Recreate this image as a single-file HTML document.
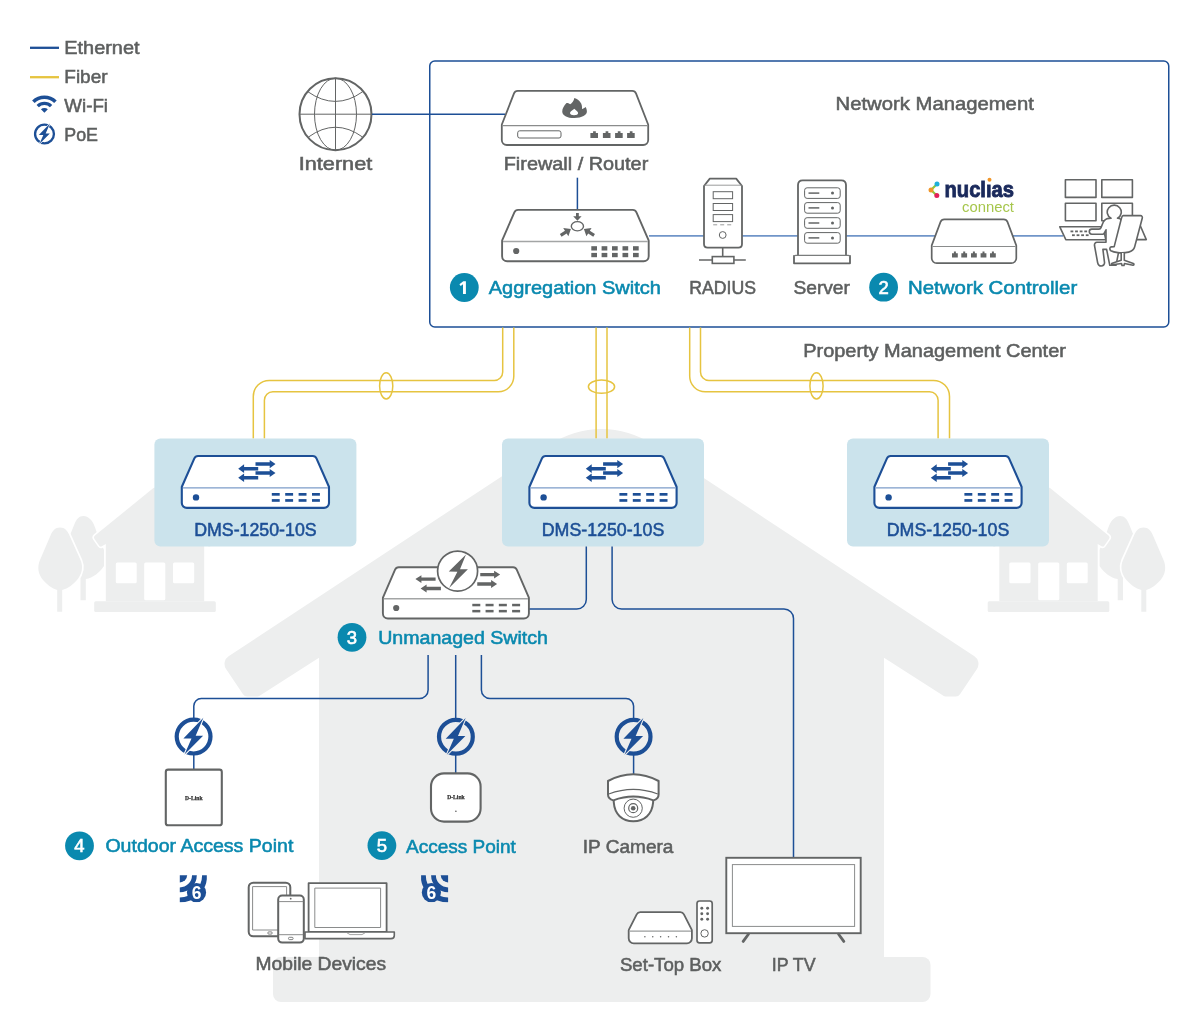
<!DOCTYPE html><html><head><meta charset="utf-8"><style>html,body{margin:0;padding:0;background:#fff;overflow:hidden}svg{display:block;will-change:transform}</style></head><body><svg width="1200" height="1034" viewBox="0 0 1200 1034" font-family='"Liberation Sans", sans-serif'>
<rect width="1200" height="1034" fill="#fff"/>
<path d="M319.00,657.86 L259.24,695.93 A3.00,3.00 0 0 1 257.63,696.40 L247.17,696.40 A5.00,5.00 0 0 1 243.01,694.19 L226.05,668.90 A9.00,9.00 0 0 1 228.58,656.37 L550.33,444.34 A93.00,93.00 0 0 1 652.67,444.34 L974.42,656.37 A9.00,9.00 0 0 1 976.95,668.90 L959.99,694.19 A5.00,5.00 0 0 1 955.83,696.40 L945.37,696.40 A3.00,3.00 0 0 1 943.76,695.93 L884.00,657.86 L884.00,957.00 L319.00,957.00Z" fill="#edeeee"/>
<rect x="273" y="957" width="657.5" height="45" rx="8" fill="#edeeee"/>
<g>
<path d="M83.4,516 C79,516 76.5,519 74.5,524 L66,545 C64,551 66,558 70,564 C73,569 77,573 80.5,575 L80.5,600.3 L85.8,600.3 L85.8,579 C93,578 100,572 104,566 L104,550 L97,533 C95,527 93,521 90,519 C88,517 86,516 83.4,516 Z" fill="#edeeee"/>
<path d="M105.80,544.00 L101.89,546.27 A2.00,2.00 0 0 1 99.25,545.69 L94.53,538.90 A2.50,2.50 0 0 1 95.00,535.54 L153.11,488.29 A3.00,3.00 0 0 1 156.89,488.29 L215.00,535.54 A2.50,2.50 0 0 1 215.47,538.90 L210.75,545.69 A2.00,2.00 0 0 1 208.11,546.27 L204.20,544.00 L204.20,601.30 L105.80,601.30Z" fill="#edeeee" stroke="#fff" stroke-width="3.2" stroke-linejoin="round"/>
<path d="M105.80,544.00 L101.89,546.27 A2.00,2.00 0 0 1 99.25,545.69 L94.53,538.90 A2.50,2.50 0 0 1 95.00,535.54 L153.11,488.29 A3.00,3.00 0 0 1 156.89,488.29 L215.00,535.54 A2.50,2.50 0 0 1 215.47,538.90 L210.75,545.69 A2.00,2.00 0 0 1 208.11,546.27 L204.20,544.00 L204.20,601.30 L105.80,601.30Z" fill="#edeeee"/>
<rect x="94.2" y="601.3" width="121.6" height="10.7" rx="1.5" fill="#edeeee"/>
<rect x="115.8" y="562.5" width="20.9" height="20.8" rx="1.5" fill="#fff"/>
<rect x="144.2" y="562.5" width="21.1" height="37.8" rx="1.5" fill="#fff"/>
<rect x="173" y="562.5" width="21.2" height="20.8" rx="1.5" fill="#fff"/>
<path d="M60,527.5 C55,527.5 52.5,531 50.5,535.5 L40,560 C37,567 38,574 43,580 C47,584.5 52,588.5 57.2,590 L57.2,611.7 L62.2,611.7 L62.2,590 C68,588.5 73,584.5 77,580 C82,574 83.5,567 80.5,560 L69.5,535.5 C67.5,531 65,527.5 60,527.5 Z" fill="#edeeee" stroke="#fff" stroke-width="3.4"/>
<path d="M60,527.5 C55,527.5 52.5,531 50.5,535.5 L40,560 C37,567 38,574 43,580 C47,584.5 52,588.5 57.2,590 L57.2,611.7 L62.2,611.7 L62.2,590 C68,588.5 73,584.5 77,580 C82,574 83.5,567 80.5,560 L69.5,535.5 C67.5,531 65,527.5 60,527.5 Z" fill="#edeeee"/>
</g>
<g transform="translate(1203.5,0) scale(-1,1)">
<path d="M83.4,516 C79,516 76.5,519 74.5,524 L66,545 C64,551 66,558 70,564 C73,569 77,573 80.5,575 L80.5,600.3 L85.8,600.3 L85.8,579 C93,578 100,572 104,566 L104,550 L97,533 C95,527 93,521 90,519 C88,517 86,516 83.4,516 Z" fill="#edeeee"/>
<path d="M105.80,544.00 L101.89,546.27 A2.00,2.00 0 0 1 99.25,545.69 L94.53,538.90 A2.50,2.50 0 0 1 95.00,535.54 L153.11,488.29 A3.00,3.00 0 0 1 156.89,488.29 L215.00,535.54 A2.50,2.50 0 0 1 215.47,538.90 L210.75,545.69 A2.00,2.00 0 0 1 208.11,546.27 L204.20,544.00 L204.20,601.30 L105.80,601.30Z" fill="#edeeee" stroke="#fff" stroke-width="3.2" stroke-linejoin="round"/>
<path d="M105.80,544.00 L101.89,546.27 A2.00,2.00 0 0 1 99.25,545.69 L94.53,538.90 A2.50,2.50 0 0 1 95.00,535.54 L153.11,488.29 A3.00,3.00 0 0 1 156.89,488.29 L215.00,535.54 A2.50,2.50 0 0 1 215.47,538.90 L210.75,545.69 A2.00,2.00 0 0 1 208.11,546.27 L204.20,544.00 L204.20,601.30 L105.80,601.30Z" fill="#edeeee"/>
<rect x="94.2" y="601.3" width="121.6" height="10.7" rx="1.5" fill="#edeeee"/>
<rect x="115.8" y="562.5" width="20.9" height="20.8" rx="1.5" fill="#fff"/>
<rect x="144.2" y="562.5" width="21.1" height="37.8" rx="1.5" fill="#fff"/>
<rect x="173" y="562.5" width="21.2" height="20.8" rx="1.5" fill="#fff"/>
<path d="M60,527.5 C55,527.5 52.5,531 50.5,535.5 L40,560 C37,567 38,574 43,580 C47,584.5 52,588.5 57.2,590 L57.2,611.7 L62.2,611.7 L62.2,590 C68,588.5 73,584.5 77,580 C82,574 83.5,567 80.5,560 L69.5,535.5 C67.5,531 65,527.5 60,527.5 Z" fill="#edeeee" stroke="#fff" stroke-width="3.4"/>
<path d="M60,527.5 C55,527.5 52.5,531 50.5,535.5 L40,560 C37,567 38,574 43,580 C47,584.5 52,588.5 57.2,590 L57.2,611.7 L62.2,611.7 L62.2,590 C68,588.5 73,584.5 77,580 C82,574 83.5,567 80.5,560 L69.5,535.5 C67.5,531 65,527.5 60,527.5 Z" fill="#edeeee"/>
</g>
<line x1="30" y1="47.8" x2="59" y2="47.8" stroke="#1d4f96" stroke-width="2.3"/>
<line x1="30" y1="77.2" x2="59" y2="77.2" stroke="#e6c440" stroke-width="2.3"/>
<text x="64.3" y="54.4" font-size="18.5" font-weight="normal" stroke="#5d5f5f" stroke-width="0.55" fill="#5d5f5f" text-anchor="start" textLength="75.2" lengthAdjust="spacingAndGlyphs">Ethernet</text>
<text x="64.3" y="83.2" font-size="18.5" font-weight="normal" stroke="#5d5f5f" stroke-width="0.55" fill="#5d5f5f" text-anchor="start" textLength="43.2" lengthAdjust="spacingAndGlyphs">Fiber</text>
<text x="64.3" y="111.8" font-size="18.5" font-weight="normal" stroke="#5d5f5f" stroke-width="0.55" fill="#5d5f5f" text-anchor="start" textLength="43.7" lengthAdjust="spacingAndGlyphs">Wi-Fi</text>
<text x="64.3" y="140.9" font-size="18.5" font-weight="normal" stroke="#5d5f5f" stroke-width="0.55" fill="#5d5f5f" text-anchor="start" textLength="33.7" lengthAdjust="spacingAndGlyphs">PoE</text>
<path d="M34.64,103.04 L32.10,100.50 A17.4,17.4 0 0 1 56.70,100.50 L54.16,103.04 A13.8,13.8 0 0 0 34.64,103.04 Z M38.88,107.28 L36.55,104.95 A11.1,11.1 0 0 1 52.25,104.95 L49.92,107.28 A7.8,7.8 0 0 0 38.88,107.28 Z M44.4,112.8 L40.94,109.34 A4.9,4.9 0 0 1 47.86,109.34 Z" fill="#1d4f96"/>
<circle cx="44.5" cy="134" r="9.42" fill="none" stroke="#1d4f96" stroke-width="2.34"/>
<path d="M49.94,123.52 L38.81,135.11 L43.33,135.11 L39.42,143.99 L49.80,133.55 L45.67,133.55Z" fill="#1d4f96" stroke="#fff" stroke-width="1.17" stroke-linejoin="miter"/>
<path d="M49.94,123.52 L38.81,135.11 L43.33,135.11 L39.42,143.99 L49.80,133.55 L45.67,133.55Z" fill="#1d4f96"/>
<g fill="none" stroke="#636565">
<circle cx="335.5" cy="114.2" r="36" stroke-width="2"/>
<ellipse cx="335.5" cy="114.2" rx="21" ry="36" stroke-width="1"/>
<line x1="335.5" y1="78.2" x2="335.5" y2="150.2" stroke-width="1"/>
<line x1="299.5" y1="114.2" x2="371.5" y2="114.2" stroke-width="1"/>
<path d="M308,91.8 Q335.5,111 362.5,91.8" stroke-width="1"/>
<path d="M308.5,137 Q335.5,117.5 362.5,137" stroke-width="1"/>
</g>
<text x="335.5" y="169.8" font-size="18.5" font-weight="normal" stroke="#5d5f5f" stroke-width="0.55" fill="#5d5f5f" text-anchor="middle" textLength="73.5" lengthAdjust="spacingAndGlyphs">Internet</text>
<rect x="429.75" y="61" width="739" height="266" rx="5" fill="#fff" stroke="#1d4f96" stroke-width="1.5"/>
<line x1="372" y1="114.2" x2="505" y2="114.2" stroke="#1d4f96" stroke-width="1.5"/>
<text x="835.6" y="110" font-size="18.5" font-weight="normal" stroke="#5d5f5f" stroke-width="0.55" fill="#5d5f5f" text-anchor="start" textLength="198.2" lengthAdjust="spacingAndGlyphs">Network Management</text>
<text x="803.2" y="356.6" font-size="18.5" font-weight="normal" stroke="#5d5f5f" stroke-width="0.55" fill="#5d5f5f" text-anchor="start" textLength="262.7" lengthAdjust="spacingAndGlyphs">Property Management Center</text>
<path d="M514.00,93.44 A4.00,4.00 0 0 1 517.73,90.90 L632.27,90.90 A4.00,4.00 0 0 1 636.00,93.44 L648.06,124.25 A2.00,2.00 0 0 1 648.20,124.98 L648.20,140.00 A5.00,5.00 0 0 1 643.20,145.00 L506.80,145.00 A5.00,5.00 0 0 1 501.80,140.00 L501.80,124.98 A2.00,2.00 0 0 1 501.94,124.25Z" fill="#fff" stroke="#636565" stroke-width="1.8" stroke-linejoin="round"/>
<line x1="502.7" y1="125.6" x2="647.3000000000001" y2="125.6" stroke="#8a8c8c" stroke-width="1.3"/>
<rect x="517.7" y="130.8" width="43.3" height="7.2" rx="2" fill="none" stroke="#636565" stroke-width="1"/>
<path d="M590.4,133.1 h2.7 v-1.9 h2.7 v1.9 h2.2 v4.8 h-7.6 Z" fill="#636565"/>
<path d="M602.9,133.1 h2.7 v-1.9 h2.7 v1.9 h2.2 v4.8 h-7.6 Z" fill="#636565"/>
<path d="M615.1,133.1 h2.7 v-1.9 h2.7 v1.9 h2.2 v4.8 h-7.6 Z" fill="#636565"/>
<path d="M627.1,133.1 h2.7 v-1.9 h2.7 v1.9 h2.2 v4.8 h-7.6 Z" fill="#636565"/>
<path d="M574.3,98 C574,101 572,103 570.2,104.2 C569,103.5 567.5,103 566.5,103.1 C564,106 562.2,108.5 562.25,111.5 C562.3,115.5 567,118.1 574.4,118.1 C582,118.1 587,115 586.9,111.6 C586.9,109.5 586.3,108 585.5,107 C584.5,108 583,108.8 582,109 C582.6,104 580,100 574.3,98 Z" fill="#636565"/>
<path d="M574.4,108.7 C572,110.5 570,111.5 570,113 C570,114.5 572,115.2 574,115.2 C576.5,115.2 578.1,114.5 578.1,113 C578.1,111.8 576,110.2 574.4,108.7 Z" fill="#fff"/>
<text x="576" y="169.5" font-size="18.5" font-weight="normal" stroke="#5d5f5f" stroke-width="0.55" fill="#5d5f5f" text-anchor="middle" textLength="144.5" lengthAdjust="spacingAndGlyphs">Firewall / Router</text>
<line x1="577.4" y1="177.7" x2="577.4" y2="210" stroke="#1d4f96" stroke-width="1.5"/>
<line x1="649" y1="235.9" x2="1063" y2="235.9" stroke="#7095c8" stroke-width="1.6"/>
<path d="M514.35,212.31 A4.00,4.00 0 0 1 518.02,209.90 L632.78,209.90 A4.00,4.00 0 0 1 636.45,212.31 L648.53,240.12 A2.00,2.00 0 0 1 648.70,240.92 L648.70,256.30 A5.00,5.00 0 0 1 643.70,261.30 L507.10,261.30 A5.00,5.00 0 0 1 502.10,256.30 L502.10,240.92 A2.00,2.00 0 0 1 502.27,240.12Z" fill="#fff" stroke="#636565" stroke-width="1.9" stroke-linejoin="round"/>
<line x1="503.04999999999995" y1="241.5" x2="647.7499999999999" y2="241.5" stroke="#a3a5a5" stroke-width="1.5"/>
<circle cx="516.2" cy="251" r="3.1" fill="#636565"/>
<rect x="591.3" y="246.2" width="5.7" height="4.3" fill="#636565"/>
<rect x="591.3" y="252.9" width="5.7" height="4.3" fill="#636565"/>
<rect x="601.6" y="246.2" width="5.7" height="4.3" fill="#636565"/>
<rect x="601.6" y="252.9" width="5.7" height="4.3" fill="#636565"/>
<rect x="612" y="246.2" width="5.7" height="4.3" fill="#636565"/>
<rect x="612" y="252.9" width="5.7" height="4.3" fill="#636565"/>
<rect x="622.5" y="246.2" width="5.7" height="4.3" fill="#636565"/>
<rect x="622.5" y="252.9" width="5.7" height="4.3" fill="#636565"/>
<rect x="633" y="246.2" width="5.7" height="4.3" fill="#636565"/>
<rect x="633" y="252.9" width="5.7" height="4.3" fill="#636565"/>
<ellipse cx="577.4" cy="226.25" rx="6.1" ry="4.6" fill="none" stroke="#636565" stroke-width="1.4"/>
<path d="M576,212.9 h2.8 v3.35 h2.8 l-4.2,4.4 l-4.2,-4.4 h2.8 Z" fill="#636565"/>
<path d="M570.90,229.00 L568.38,236.33 L566.64,233.52 L561.54,236.68 L559.86,233.96 L564.96,230.80 L563.22,228.00Z" fill="#636565"/>
<path d="M583.90,229.00 L591.58,228.00 L589.84,230.80 L594.94,233.96 L593.26,236.68 L588.16,233.52 L586.42,236.33Z" fill="#636565"/>
<path d="M709.8,178.6 L736.2,178.6 L742,186 L742,244 Q742,247.6 738.4,247.6 L707.6,247.6 Q704,247.6 704,244 L704,186 Z" fill="#fff" stroke="#636565" stroke-width="1.8" stroke-linejoin="round"/>
<line x1="704.5" y1="185.2" x2="741.5" y2="185.2" stroke="#9a9c9c" stroke-width="1"/>
<g fill="none" stroke="#636565" stroke-width="1">
<rect x="713.2" y="191.7" width="19.4" height="7" />
<rect x="713.2" y="203.5" width="19.4" height="7" />
<rect x="713.2" y="214.6" width="19.4" height="7" />
<line x1="713.2" y1="224.8" x2="732.6" y2="224.8" stroke-dasharray="4,3" stroke="#9a9c9c"/>
<circle cx="722.7" cy="235" r="3.4"/>
</g>
<line x1="722.7" y1="247.6" x2="722.7" y2="256.5" stroke="#636565" stroke-width="1.6"/>
<line x1="699" y1="260" x2="745.8" y2="260" stroke="#636565" stroke-width="1.6"/>
<rect x="712.3" y="256.6" width="21.6" height="6.8" fill="#fff" stroke="#636565" stroke-width="1.6"/>
<text x="722.7" y="294.2" font-size="18.5" font-weight="normal" stroke="#5d5f5f" stroke-width="0.55" fill="#5d5f5f" text-anchor="middle" textLength="66.8" lengthAdjust="spacingAndGlyphs">RADIUS</text>
<path d="M798,255 L798,185 Q798,180.3 802.7,180.3 L841.3,180.3 Q846,180.3 846,185 L846,255" fill="#fff" stroke="#636565" stroke-width="1.8"/>
<path d="M794,255.3 L794,263.3 L850,263.3 L850,255.3" fill="#fff" stroke="#636565" stroke-width="1.8" stroke-linejoin="round"/>
<path d="M794,257 Q794,255.3 796,255.3 L848,255.3 Q850,255.3 850,257" fill="none" stroke="#7a7c7c" stroke-width="1.3"/>
<rect x="804.6" y="187.8" width="35.6" height="10.6" rx="2.5" fill="#fff" stroke="#636565" stroke-width="1"/>
<line x1="808.5" y1="193.10000000000002" x2="819.3" y2="193.10000000000002" stroke="#636565" stroke-width="1.5"/>
<circle cx="832.5" cy="193.10000000000002" r="1.5" fill="#636565"/>
<rect x="804.6" y="202.6" width="35.6" height="10.6" rx="2.5" fill="#fff" stroke="#636565" stroke-width="1"/>
<line x1="808.5" y1="207.9" x2="819.3" y2="207.9" stroke="#636565" stroke-width="1.5"/>
<circle cx="832.5" cy="207.9" r="1.5" fill="#636565"/>
<rect x="804.6" y="217.7" width="35.6" height="10.6" rx="2.5" fill="#fff" stroke="#636565" stroke-width="1"/>
<line x1="808.5" y1="223.0" x2="819.3" y2="223.0" stroke="#636565" stroke-width="1.5"/>
<circle cx="832.5" cy="223.0" r="1.5" fill="#636565"/>
<rect x="804.6" y="232.6" width="35.6" height="10.6" rx="2.5" fill="#fff" stroke="#636565" stroke-width="1"/>
<line x1="808.5" y1="237.9" x2="819.3" y2="237.9" stroke="#636565" stroke-width="1.5"/>
<circle cx="832.5" cy="237.9" r="1.5" fill="#636565"/>
<text x="821.7" y="294.2" font-size="18.5" font-weight="normal" stroke="#5d5f5f" stroke-width="0.55" fill="#5d5f5f" text-anchor="middle" textLength="56.5" lengthAdjust="spacingAndGlyphs">Server</text>
<line x1="931" y1="190" x2="937" y2="184" stroke="#8dc63f" stroke-width="2.2"/>
<line x1="931" y1="190" x2="936.8" y2="195.5" stroke="#8dc63f" stroke-width="2.2"/>
<circle cx="937" cy="184" r="2.5" fill="#1fb0da"/>
<circle cx="931" cy="190" r="2.5" fill="#f0962a"/>
<circle cx="936.8" cy="195.5" r="2.5" fill="#e3205a"/>
<text x="944.5" y="196.5" font-size="22.5" font-weight="bold" fill="#1b2a5c" text-anchor="start" textLength="69.5" lengthAdjust="spacingAndGlyphs" stroke="#1b2a5c" stroke-width="0.9">nuc&#x6c;&#x131;as</text>
<circle cx="989.5" cy="179.7" r="2" fill="#f0962a"/>
<text x="962" y="211.8" font-size="14.5" font-weight="normal" fill="#a6c64c" text-anchor="start" textLength="52" lengthAdjust="spacingAndGlyphs">connect</text>
<path d="M940.53,221.90 A4.00,4.00 0 0 1 944.27,219.30 L1003.73,219.30 A4.00,4.00 0 0 1 1007.47,221.90 L1016.17,245.16 A2.00,2.00 0 0 1 1016.30,245.86 L1016.30,258.20 A5.00,5.00 0 0 1 1011.30,263.20 L936.70,263.20 A5.00,5.00 0 0 1 931.70,258.20 L931.70,245.86 A2.00,2.00 0 0 1 931.83,245.16Z" fill="#fff" stroke="#636565" stroke-width="1.7" stroke-linejoin="round"/>
<line x1="932.5500000000001" y1="246.5" x2="1015.4499999999999" y2="246.5" stroke="#8a8c8c" stroke-width="1.2"/>
<path d="M952,253.3 h1.9 v-1.8 h2 v1.8 h1.9 v4.2 h-5.8 Z" fill="#636565"/>
<path d="M961.3,253.3 h1.9 v-1.8 h2 v1.8 h1.9 v4.2 h-5.8 Z" fill="#636565"/>
<path d="M971,253.3 h1.9 v-1.8 h2 v1.8 h1.9 v4.2 h-5.8 Z" fill="#636565"/>
<path d="M980.6,253.3 h1.9 v-1.8 h2 v1.8 h1.9 v4.2 h-5.8 Z" fill="#636565"/>
<path d="M990,253.3 h1.9 v-1.8 h2 v1.8 h1.9 v4.2 h-5.8 Z" fill="#636565"/>
<g fill="#fff" stroke="#636565" stroke-width="1.6" stroke-linejoin="round">
<rect x="1065.4" y="179.8" width="30.6" height="17.6"/>
<rect x="1101.8" y="179.8" width="30.6" height="17.6"/>
<rect x="1065.4" y="203.2" width="30.6" height="17.6"/>
<rect x="1101.8" y="203.2" width="30.6" height="17.6"/>
<path d="M1059.8,226.8 L1103,226.8 L1105.8,239.7 L1065.8,239.7 Z"/>
<path d="M1111,218.3 L1107.3,218.6 C1105.5,219.2 1104.2,220.5 1103.2,222.2 L1101,227.6 C1100.6,228.6 1100,229.1 1099,229.1 L1091.8,229.1 C1090.2,229.1 1089.3,230.3 1089.3,231.6 C1089.3,233 1090.3,234.2 1091.8,234.2 L1102.5,234.2 C1103.4,234.2 1104,233.6 1104.4,232.8 L1106,229.8 L1106,242.2 L1097,242.3 C1095.3,242.3 1094.3,243.8 1094.5,245.5 L1097.6,262.5 C1098,264.8 1099.6,266 1101.3,266 C1103.3,266 1104.8,264.3 1104.5,262.3 L1102.9,249.4 L1106.6,249.4 L1109.8,265.3 L1116,265.3 L1121,240 L1121,219.5 C1120,218.6 1118.8,218.3 1117.5,218.3 A7,7 0 1 0 1111,218.3 Z"/>
<path d="M1140.2,225.5 L1146.3,239.6 L1133,239.6 Z"/>
<path d="M1123.2,215.6 L1140.5,215.6 C1141.8,215.6 1142.6,216.8 1142.3,218 L1134.6,247 C1133.9,249.8 1131.6,251.4 1128.6,252.1 C1121,253.8 1113.5,252.2 1110.9,250.7 C1109.3,249.7 1109.5,247.1 1111.2,246.9 L1114.2,246.6 L1121.5,218 C1121.9,216.5 1122.4,215.6 1123.2,215.6 Z"/>
<path d="M1121.2,252.9 L1121.2,260.3 L1112.2,263.2 C1111.2,263.6 1111.5,265 1112.5,264.8 L1121.5,263.5 L1122,265.5 L1124,265.5 L1124.5,263.5 L1133,265.2 C1134,265.3 1134.3,264 1133.3,263.6 L1124.3,260.3 L1124.3,252.9"/>
</g>
<rect x="1070.5" y="230.5" width="2.8" height="1.8" fill="#636565"/>
<rect x="1072.0" y="234.3" width="2.8" height="1.8" fill="#636565"/>
<rect x="1075.1" y="230.5" width="2.8" height="1.8" fill="#636565"/>
<rect x="1076.6" y="234.3" width="2.8" height="1.8" fill="#636565"/>
<rect x="1079.7" y="230.5" width="2.8" height="1.8" fill="#636565"/>
<rect x="1081.2" y="234.3" width="2.8" height="1.8" fill="#636565"/>
<rect x="1084.3" y="230.5" width="2.8" height="1.8" fill="#636565"/>
<rect x="1085.8" y="234.3" width="2.8" height="1.8" fill="#636565"/>
<circle cx="464.3" cy="287.5" r="14.4" fill="#0a89af"/>
<path d="M465.90000000000003,281.2 L463.3,281.2 L459.40000000000003,284.3 L460.7,286.0 L463.0,284.2 L463.0,294.0 L465.90000000000003,294.0 Z" fill="#fff"/>
<text x="488.7" y="294.4" font-size="18.5" font-weight="normal" stroke="#0a89af" stroke-width="0.55" fill="#0a89af" text-anchor="start" textLength="172.2" lengthAdjust="spacingAndGlyphs">Aggregation Switch</text>
<circle cx="883.6" cy="287.2" r="14.4" fill="#0a89af"/>
<text x="883.6" y="293.59999999999997" font-size="18.5" font-weight="normal" stroke="#fff" stroke-width="0.6" fill="#fff" text-anchor="middle">2</text>
<text x="908.0" y="293.9" font-size="18.5" font-weight="normal" stroke="#0a89af" stroke-width="0.55" fill="#0a89af" text-anchor="start" textLength="169.2" lengthAdjust="spacingAndGlyphs">Network Controller</text>
<path d="M502.7,327.5 L502.7,372 A8.4,8.4 0 0 1 494.3,380.4 L269.3,380.4 A16,16 0 0 0 253.3,396.4 L253.3,438.4" fill="none" stroke="#e6c440" stroke-width="1.5"/>
<path d="M513.8,327.5 L513.8,376.3 A15.5,15.5 0 0 1 498.3,391.8 L272.9,391.8 A8.5,8.5 0 0 0 264.4,400.3 L264.4,438.4" fill="none" stroke="#e6c440" stroke-width="1.5"/>
<path d="M596.1,327.5 L596.1,438.4" fill="none" stroke="#e6c440" stroke-width="1.5"/>
<path d="M607,327.5 L607,438.4" fill="none" stroke="#e6c440" stroke-width="1.5"/>
<path d="M700.5,327.5 L700.5,372 A8.4,8.4 0 0 0 708.9,380.4 L933.5,380.4 A16,16 0 0 1 949.5,396.4 L949.5,438.4" fill="none" stroke="#e6c440" stroke-width="1.5"/>
<path d="M689.7,327.5 L689.7,376.3 A15.5,15.5 0 0 0 705.2,391.8 L929.6,391.8 A8.5,8.5 0 0 1 938.1,400.3 L938.1,438.4" fill="none" stroke="#e6c440" stroke-width="1.5"/>
<g fill="none" stroke="#e6c440" stroke-width="1.5">
<ellipse cx="386.2" cy="385.9" rx="6.6" ry="13.1"/>
<ellipse cx="816.5" cy="385.9" rx="6.6" ry="13.1"/>
<ellipse cx="601.5" cy="386.7" rx="13.1" ry="6.6"/>
</g>
<rect x="154.4" y="438.4" width="202" height="108.2" rx="6" fill="#cbe3ec"/>
<path d="M194.35,458.39 A4.00,4.00 0 0 1 198.01,456.00 L312.79,456.00 A4.00,4.00 0 0 1 316.45,458.39 L328.83,486.51 A2.00,2.00 0 0 1 329.00,487.32 L329.00,502.90 A5.00,5.00 0 0 1 324.00,507.90 L186.80,507.90 A5.00,5.00 0 0 1 181.80,502.90 L181.80,487.32 A2.00,2.00 0 0 1 181.97,486.51Z" fill="#fff" stroke="#1d4f96" stroke-width="2.1" stroke-linejoin="round"/>
<line x1="182.85000000000002" y1="487.9" x2="327.95" y2="487.9" stroke="#7d9cc9" stroke-width="1.3"/>
<circle cx="196.0" cy="497.4" r="3.2" fill="#1d4f96"/>
<rect x="271.8" y="493" width="7.9" height="2.7" fill="#1d4f96"/>
<rect x="271.8" y="499.1" width="7.9" height="2.7" fill="#1d4f96"/>
<rect x="285.2" y="493" width="7.9" height="2.7" fill="#1d4f96"/>
<rect x="285.2" y="499.1" width="7.9" height="2.7" fill="#1d4f96"/>
<rect x="298.6" y="493" width="7.9" height="2.7" fill="#1d4f96"/>
<rect x="298.6" y="499.1" width="7.9" height="2.7" fill="#1d4f96"/>
<rect x="312.0" y="493" width="7.9" height="2.7" fill="#1d4f96"/>
<rect x="312.0" y="499.1" width="7.9" height="2.7" fill="#1d4f96"/>
<path d="M255.5,462.3 L269.7,462.3 L269.7,459.95 L275.5,464.05 L269.7,468.15000000000003 L269.7,465.8 L255.5,465.8 Z" fill="#1d4f96"/>
<path d="M255.5,471.25 L269.7,471.25 L269.7,468.9 L275.5,473.0 L269.7,477.1 L269.7,474.75 L255.5,474.75 Z" fill="#1d4f96"/>
<path d="M258.2,466.9 L244.1,466.9 L244.1,464.34999999999997 L238.2,468.65 L244.1,472.95 L244.1,470.4 L258.2,470.4 Z" fill="#1d4f96"/>
<path d="M258.2,475.95 L244.1,475.95 L244.1,473.4 L238.2,477.7 L244.1,482.0 L244.1,479.45 L258.2,479.45 Z" fill="#1d4f96"/>
<text x="255.4" y="536.1" font-size="18.5" font-weight="normal" stroke="#1d4f96" stroke-width="0.55" fill="#1d4f96" text-anchor="middle" textLength="122.5" lengthAdjust="spacingAndGlyphs">DMS-1250-10S</text>
<rect x="502" y="438.4" width="202" height="108.2" rx="6" fill="#cbe3ec"/>
<path d="M541.95,458.39 A4.00,4.00 0 0 1 545.61,456.00 L660.39,456.00 A4.00,4.00 0 0 1 664.05,458.39 L676.43,486.51 A2.00,2.00 0 0 1 676.60,487.32 L676.60,502.90 A5.00,5.00 0 0 1 671.60,507.90 L534.40,507.90 A5.00,5.00 0 0 1 529.40,502.90 L529.40,487.32 A2.00,2.00 0 0 1 529.57,486.51Z" fill="#fff" stroke="#1d4f96" stroke-width="2.1" stroke-linejoin="round"/>
<line x1="530.4499999999999" y1="487.9" x2="675.5500000000001" y2="487.9" stroke="#7d9cc9" stroke-width="1.3"/>
<circle cx="543.6" cy="497.4" r="3.2" fill="#1d4f96"/>
<rect x="619.4" y="493" width="7.9" height="2.7" fill="#1d4f96"/>
<rect x="619.4" y="499.1" width="7.9" height="2.7" fill="#1d4f96"/>
<rect x="632.8" y="493" width="7.9" height="2.7" fill="#1d4f96"/>
<rect x="632.8" y="499.1" width="7.9" height="2.7" fill="#1d4f96"/>
<rect x="646.2" y="493" width="7.9" height="2.7" fill="#1d4f96"/>
<rect x="646.2" y="499.1" width="7.9" height="2.7" fill="#1d4f96"/>
<rect x="659.6" y="493" width="7.9" height="2.7" fill="#1d4f96"/>
<rect x="659.6" y="499.1" width="7.9" height="2.7" fill="#1d4f96"/>
<path d="M603.1,462.3 L617.3000000000001,462.3 L617.3000000000001,459.95 L623.1,464.05 L617.3000000000001,468.15000000000003 L617.3000000000001,465.8 L603.1,465.8 Z" fill="#1d4f96"/>
<path d="M603.1,471.25 L617.3000000000001,471.25 L617.3000000000001,468.9 L623.1,473.0 L617.3000000000001,477.1 L617.3000000000001,474.75 L603.1,474.75 Z" fill="#1d4f96"/>
<path d="M605.8,466.9 L591.6999999999999,466.9 L591.6999999999999,464.34999999999997 L585.8,468.65 L591.6999999999999,472.95 L591.6999999999999,470.4 L605.8,470.4 Z" fill="#1d4f96"/>
<path d="M605.8,475.95 L591.6999999999999,475.95 L591.6999999999999,473.4 L585.8,477.7 L591.6999999999999,482.0 L591.6999999999999,479.45 L605.8,479.45 Z" fill="#1d4f96"/>
<text x="603" y="536.1" font-size="18.5" font-weight="normal" stroke="#1d4f96" stroke-width="0.55" fill="#1d4f96" text-anchor="middle" textLength="122.5" lengthAdjust="spacingAndGlyphs">DMS-1250-10S</text>
<rect x="847" y="438.4" width="202" height="108.2" rx="6" fill="#cbe3ec"/>
<path d="M886.95,458.39 A4.00,4.00 0 0 1 890.61,456.00 L1005.39,456.00 A4.00,4.00 0 0 1 1009.05,458.39 L1021.43,486.51 A2.00,2.00 0 0 1 1021.60,487.32 L1021.60,502.90 A5.00,5.00 0 0 1 1016.60,507.90 L879.40,507.90 A5.00,5.00 0 0 1 874.40,502.90 L874.40,487.32 A2.00,2.00 0 0 1 874.57,486.51Z" fill="#fff" stroke="#1d4f96" stroke-width="2.1" stroke-linejoin="round"/>
<line x1="875.4499999999999" y1="487.9" x2="1020.5500000000001" y2="487.9" stroke="#7d9cc9" stroke-width="1.3"/>
<circle cx="888.6" cy="497.4" r="3.2" fill="#1d4f96"/>
<rect x="964.4" y="493" width="7.9" height="2.7" fill="#1d4f96"/>
<rect x="964.4" y="499.1" width="7.9" height="2.7" fill="#1d4f96"/>
<rect x="977.8" y="493" width="7.9" height="2.7" fill="#1d4f96"/>
<rect x="977.8" y="499.1" width="7.9" height="2.7" fill="#1d4f96"/>
<rect x="991.2" y="493" width="7.9" height="2.7" fill="#1d4f96"/>
<rect x="991.2" y="499.1" width="7.9" height="2.7" fill="#1d4f96"/>
<rect x="1004.6" y="493" width="7.9" height="2.7" fill="#1d4f96"/>
<rect x="1004.6" y="499.1" width="7.9" height="2.7" fill="#1d4f96"/>
<path d="M948.1,462.3 L962.3000000000001,462.3 L962.3000000000001,459.95 L968.1,464.05 L962.3000000000001,468.15000000000003 L962.3000000000001,465.8 L948.1,465.8 Z" fill="#1d4f96"/>
<path d="M948.1,471.25 L962.3000000000001,471.25 L962.3000000000001,468.9 L968.1,473.0 L962.3000000000001,477.1 L962.3000000000001,474.75 L948.1,474.75 Z" fill="#1d4f96"/>
<path d="M950.8,466.9 L936.6999999999999,466.9 L936.6999999999999,464.34999999999997 L930.8,468.65 L936.6999999999999,472.95 L936.6999999999999,470.4 L950.8,470.4 Z" fill="#1d4f96"/>
<path d="M950.8,475.95 L936.6999999999999,475.95 L936.6999999999999,473.4 L930.8,477.7 L936.6999999999999,482.0 L936.6999999999999,479.45 L950.8,479.45 Z" fill="#1d4f96"/>
<text x="948" y="536.1" font-size="18.5" font-weight="normal" stroke="#1d4f96" stroke-width="0.55" fill="#1d4f96" text-anchor="middle" textLength="122.5" lengthAdjust="spacingAndGlyphs">DMS-1250-10S</text>
<path d="M586.3,546.6 L586.3,599.5 A9.5,9.5 0 0 1 576.8,609 L529,609" stroke="#1d4f96" stroke-width="1.5" fill="none"/>
<path d="M612.1,546.6 L612.1,599.5 A9.5,9.5 0 0 0 621.6,609 L784,609 A9.5,9.5 0 0 1 793.5,618.5 L793.5,857" stroke="#1d4f96" stroke-width="1.5" fill="none"/>
<path d="M428.1,655 L428.1,689.9 A8.6,8.6 0 0 1 419.5,698.5 L201.3,698.5 A7.5,7.5 0 0 0 193.8,706 L193.8,718" stroke="#1d4f96" stroke-width="1.5" fill="none"/>
<line x1="455.7" y1="655" x2="455.7" y2="718" stroke="#1d4f96" stroke-width="1.5" fill="none"/>
<path d="M481.4,655 L481.4,689.9 A8.6,8.6 0 0 0 490,698.5 L626,698.5 A7.6,7.6 0 0 1 633.6,706.1 L633.6,718" stroke="#1d4f96" stroke-width="1.5" fill="none"/>
<line x1="193.8" y1="755" x2="193.8" y2="769" stroke="#1d4f96" stroke-width="1.5" fill="none"/>
<line x1="455.7" y1="755" x2="455.7" y2="773" stroke="#1d4f96" stroke-width="1.5" fill="none"/>
<line x1="633.6" y1="755" x2="633.6" y2="774" stroke="#1d4f96" stroke-width="1.5" fill="none"/>
<path d="M395.06,569.62 A4.00,4.00 0 0 1 398.73,567.20 L513.07,567.20 A4.00,4.00 0 0 1 516.74,569.62 L528.74,597.42 A2.00,2.00 0 0 1 528.90,598.21 L528.90,613.50 A5.00,5.00 0 0 1 523.90,618.50 L387.90,618.50 A5.00,5.00 0 0 1 382.90,613.50 L382.90,598.21 A2.00,2.00 0 0 1 383.06,597.42Z" fill="#fff" stroke="#636565" stroke-width="1.9" stroke-linejoin="round"/>
<line x1="383.84999999999997" y1="598.8" x2="527.9499999999999" y2="598.8" stroke="#a3a5a5" stroke-width="1.5"/>
<circle cx="396.2" cy="608" r="3.1" fill="#636565"/>
<rect x="472.30" y="603.8" width="8" height="2.5" fill="#636565"/>
<rect x="472.30" y="609.9" width="8" height="2.5" fill="#636565"/>
<rect x="485.57" y="603.8" width="8" height="2.5" fill="#636565"/>
<rect x="485.57" y="609.9" width="8" height="2.5" fill="#636565"/>
<rect x="498.84" y="603.8" width="8" height="2.5" fill="#636565"/>
<rect x="498.84" y="609.9" width="8" height="2.5" fill="#636565"/>
<rect x="512.11" y="603.8" width="8" height="2.5" fill="#636565"/>
<rect x="512.11" y="609.9" width="8" height="2.5" fill="#636565"/>
<path d="M435.6,577.4 L421.4,577.4 L421.4,575.2 L415.4,579.1 L421.4,583.0 L421.4,580.8000000000001 L435.6,580.8000000000001 Z" fill="#636565"/>
<path d="M440.9,586.8 L426.6,586.8 L426.6,584.6 L420.6,588.5 L426.6,592.4 L426.6,590.2 L440.9,590.2 Z" fill="#636565"/>
<path d="M480.25,572.9 L494.1,572.9 L494.1,570.7 L500.1,574.6 L494.1,578.5 L494.1,576.3000000000001 L480.25,576.3000000000001 Z" fill="#636565"/>
<path d="M477.25,582.3 L491.1,582.3 L491.1,580.1 L497.1,584 L491.1,587.9 L491.1,585.7 L477.25,585.7 Z" fill="#636565"/>
<circle cx="457.6" cy="571.1" r="20" fill="#fff" stroke="#636565" stroke-width="1.7"/>
<path d="M466.00,554.40 L448.75,571.60 L457.40,571.85 L449.10,588.10 L467.90,569.20 L460.00,569.20Z" fill="#636565"/>
<circle cx="352" cy="637.3" r="14.4" fill="#0a89af"/>
<text x="352" y="643.6999999999999" font-size="18.5" font-weight="normal" stroke="#fff" stroke-width="0.6" fill="#fff" text-anchor="middle">3</text>
<text x="378.2" y="644" font-size="18.5" font-weight="normal" stroke="#0a89af" stroke-width="0.55" fill="#0a89af" text-anchor="start" textLength="169.8" lengthAdjust="spacingAndGlyphs">Unmanaged Switch</text>
<circle cx="193.6" cy="736.6" r="16.89" fill="none" stroke="#1d4f96" stroke-width="4.20"/>
<path d="M203.35,717.81 L183.40,738.60 L191.51,738.60 L184.50,754.50 L203.10,735.80 L195.69,735.80Z" fill="#1d4f96" stroke="#fff" stroke-width="2.09" stroke-linejoin="miter"/>
<path d="M203.35,717.81 L183.40,738.60 L191.51,738.60 L184.50,754.50 L203.10,735.80 L195.69,735.80Z" fill="#1d4f96"/>
<circle cx="455.9" cy="736.8" r="16.89" fill="none" stroke="#1d4f96" stroke-width="4.20"/>
<path d="M465.65,718.01 L445.70,738.79 L453.81,738.79 L446.80,754.70 L465.40,736.00 L457.99,736.00Z" fill="#1d4f96" stroke="#edeeee" stroke-width="2.09" stroke-linejoin="miter"/>
<path d="M465.65,718.01 L445.70,738.79 L453.81,738.79 L446.80,754.70 L465.40,736.00 L457.99,736.00Z" fill="#1d4f96"/>
<circle cx="633.6" cy="736.8" r="16.89" fill="none" stroke="#1d4f96" stroke-width="4.20"/>
<path d="M643.35,718.01 L623.40,738.79 L631.51,738.79 L624.50,754.70 L643.10,736.00 L635.69,736.00Z" fill="#1d4f96" stroke="#edeeee" stroke-width="2.09" stroke-linejoin="miter"/>
<path d="M643.35,718.01 L623.40,738.79 L631.51,738.79 L624.50,754.70 L643.10,736.00 L635.69,736.00Z" fill="#1d4f96"/>
<rect x="165.8" y="769.6" width="56" height="55.6" rx="2.3" fill="#fff" stroke="#636565" stroke-width="2.1"/>
<text x="193.8" y="799.6" font-size="5.6" font-weight="bold" font-family="Liberation Serif" fill="#333" stroke="#333" stroke-width="0.25" text-anchor="middle">D-Link</text>
<rect x="431" y="773.4" width="49.6" height="48.2" rx="13" fill="#fff" stroke="#636565" stroke-width="2.1"/>
<text x="455.9" y="798.9" font-size="5.6" font-weight="bold" font-family="Liberation Serif" fill="#333" stroke="#333" stroke-width="0.25" text-anchor="middle">D-Link</text>
<circle cx="455.9" cy="811.2" r="0.7" fill="#444"/>
<g fill="#fff" stroke="#636565" stroke-linejoin="round">
<path d="M613.6,799 L613.8,802.5 C614.6,814 622,821.2 633.3,821.2 C644.6,821.2 652.2,814 653.1,802.5 L653.3,799" stroke-width="2"/>
<path d="M608,781 Q633.2,767.6 658.6,781 L658.6,794.5 Q658.6,799 653.4,800.4 Q633.2,792.8 613.4,800.4 Q608,799 608,794.5 Z" stroke-width="2"/>
<path d="M608.8,794 Q633.2,784.8 657.8,794" fill="none" stroke-width="1.1"/>
<circle cx="633.2" cy="808.2" r="9.1" stroke-width="1"/>
<circle cx="633.2" cy="808.2" r="4.5" stroke-width="1.2"/>
</g>
<circle cx="633.2" cy="808.2" r="2.3" fill="#636565"/>
<circle cx="79.5" cy="845.8" r="14.4" fill="#0a89af"/>
<text x="79.5" y="852.1999999999999" font-size="18.5" font-weight="normal" stroke="#fff" stroke-width="0.6" fill="#fff" text-anchor="middle">4</text>
<text x="105.4" y="852.1" font-size="18.5" font-weight="normal" stroke="#0a89af" stroke-width="0.55" fill="#0a89af" text-anchor="start" textLength="188.0" lengthAdjust="spacingAndGlyphs">Outdoor Access Point</text>
<circle cx="381.9" cy="845.6" r="14.4" fill="#0a89af"/>
<text x="381.9" y="852.0" font-size="18.5" font-weight="normal" stroke="#fff" stroke-width="0.6" fill="#fff" text-anchor="middle">5</text>
<text x="406.0" y="852.5" font-size="18.5" font-weight="normal" stroke="#0a89af" stroke-width="0.55" fill="#0a89af" text-anchor="start" textLength="109.9" lengthAdjust="spacingAndGlyphs">Access Point</text>
<text x="582.8" y="852.5" font-size="18.5" font-weight="normal" stroke="#5d5f5f" stroke-width="0.55" fill="#5d5f5f" text-anchor="start" textLength="90.6" lengthAdjust="spacingAndGlyphs">IP Camera</text>
<clipPath id="c179"><rect x="179.8" y="875.2" width="27" height="27"/></clipPath>
<g><g clip-path="url(#c179)" fill="#1d4f96">
<circle cx="179.8" cy="875.2" r="7.3"/>
<path d="M179.8,875.2 m-17,0 a17,17 0 1 0 34,0 a17,17 0 1 0 -34,0 Z M179.8,875.2 m-12.2,0 a12.2,12.2 0 1 1 24.4,0 a12.2,12.2 0 1 1 -24.4,0 Z" fill-rule="evenodd"/>
<path d="M179.8,875.2 m-27.5,0 a27.5,27.5 0 1 0 55,0 a27.5,27.5 0 1 0 -55,0 Z M179.8,875.2 m-22.3,0 a22.3,22.3 0 1 1 44.6,0 a22.3,22.3 0 1 1 -44.6,0 Z" fill-rule="evenodd"/>
<circle cx="196.5" cy="892.6" r="9.6"/>
</g></g>
<text x="196.5" y="899.4000000000001" font-size="17.5" font-weight="bold" fill="#fff" text-anchor="middle">6</text>
<clipPath id="c421"><rect x="421.1" y="875.2" width="27" height="27"/></clipPath>
<g transform="translate(869.2,0) scale(-1,1)"><g clip-path="url(#c421)" fill="#1d4f96">
<circle cx="421.1" cy="875.2" r="7.3"/>
<path d="M421.1,875.2 m-17,0 a17,17 0 1 0 34,0 a17,17 0 1 0 -34,0 Z M421.1,875.2 m-12.2,0 a12.2,12.2 0 1 1 24.4,0 a12.2,12.2 0 1 1 -24.4,0 Z" fill-rule="evenodd"/>
<path d="M421.1,875.2 m-27.5,0 a27.5,27.5 0 1 0 55,0 a27.5,27.5 0 1 0 -55,0 Z M421.1,875.2 m-22.3,0 a22.3,22.3 0 1 1 44.6,0 a22.3,22.3 0 1 1 -44.6,0 Z" fill-rule="evenodd"/>
<circle cx="437.8" cy="892.6" r="9.6"/>
</g></g>
<text x="431.4" y="899.4000000000001" font-size="17.5" font-weight="bold" fill="#fff" text-anchor="middle">6</text>
<g fill="#fff" stroke="#636565" stroke-linejoin="round">
<rect x="248.7" y="882.7" width="41.6" height="53.6" rx="4.5" stroke-width="2"/>
<rect x="252.6" y="886.6" width="34" height="43.4" stroke-width="1" stroke="#8a8c8c"/>
<rect x="267.8" y="931.9" width="4.4" height="2.2" rx="1" stroke-width="0.8"/>
<rect x="308.6" y="883.2" width="78" height="48.8" stroke-width="1.8"/>
<rect x="314.8" y="888.1" width="65.8" height="39.4" stroke-width="1" stroke="#8a8c8c"/>
<path d="M305,932 L394.3,932 L394.3,935.5 Q394.3,938.6 391,938.6 L305,938.6 Z" stroke-width="1.6"/>
<rect x="278.2" y="895.6" width="25.6" height="47" rx="4" stroke-width="2"/>
<line x1="278.8" y1="901.6" x2="303.2" y2="901.6" stroke-width="1" stroke="#8a8c8c"/>
<line x1="278.8" y1="934.7" x2="303.2" y2="934.7" stroke-width="1" stroke="#8a8c8c"/>
<rect x="288.5" y="937.3" width="4.6" height="2.3" rx="1" stroke-width="0.8"/>
</g>
<circle cx="290.7" cy="898.7" r="0.9" fill="#636565"/>
<path d="M347,932.8 L350,934.6 L362,934.6 L365,932.8" fill="none" stroke="#8a8c8c" stroke-width="0.8"/>
<text x="320.8" y="970.3" font-size="18.5" font-weight="normal" stroke="#5d5f5f" stroke-width="0.55" fill="#5d5f5f" text-anchor="middle" textLength="130.5" lengthAdjust="spacingAndGlyphs">Mobile Devices</text>
<path d="M636.69,914.39 A4.00,4.00 0 0 1 640.25,912.20 L680.35,912.20 A4.00,4.00 0 0 1 683.91,914.39 L691.68,929.67 A2.00,2.00 0 0 1 691.90,930.58 L691.90,938.30 A5.00,5.00 0 0 1 686.90,943.30 L633.70,943.30 A5.00,5.00 0 0 1 628.70,938.30 L628.70,930.58 A2.00,2.00 0 0 1 628.92,929.67Z" fill="#fff" stroke="#636565" stroke-width="1.8" stroke-linejoin="round"/>
<line x1="629.5999999999999" y1="931.1" x2="691.0" y2="931.1" stroke="#9a9c9c" stroke-width="1.1"/>
<circle cx="644.90" cy="936.8" r="0.75" fill="#636565"/>
<circle cx="652.77" cy="936.8" r="0.75" fill="#636565"/>
<circle cx="660.64" cy="936.8" r="0.75" fill="#636565"/>
<circle cx="668.51" cy="936.8" r="0.75" fill="#636565"/>
<circle cx="676.38" cy="936.8" r="0.75" fill="#636565"/>
<rect x="697" y="901" width="15.2" height="41.8" rx="2.5" fill="#fff" stroke="#636565" stroke-width="1.7"/>
<circle cx="701.8" cy="908.2" r="1.45" fill="#636565"/>
<circle cx="707.6" cy="908.2" r="1.45" fill="#636565"/>
<circle cx="701.8" cy="913.8" r="1.45" fill="#636565"/>
<circle cx="707.6" cy="913.8" r="1.45" fill="#636565"/>
<circle cx="701.8" cy="919.2" r="1.45" fill="#636565"/>
<circle cx="707.6" cy="919.2" r="1.45" fill="#636565"/>
<circle cx="704.6" cy="933.4" r="3.7" fill="none" stroke="#636565" stroke-width="1"/>
<text x="670.7" y="971" font-size="18.5" font-weight="normal" stroke="#5d5f5f" stroke-width="0.55" fill="#5d5f5f" text-anchor="middle" textLength="101.5" lengthAdjust="spacingAndGlyphs">Set-Top Box</text>
<rect x="726.3" y="857.8" width="134.4" height="75.4" fill="#fff" stroke="#636565" stroke-width="1.9"/>
<rect x="732.4" y="864.6" width="122.2" height="61.8" fill="#fff" stroke="#8a8c8c" stroke-width="1"/>
<path d="M748.4,934.2 L743.2,941.4 M838.6,934.2 L843.8,941.4" stroke="#636565" stroke-width="2.8" stroke-linecap="round"/>
<text x="793.6" y="971" font-size="18.5" font-weight="normal" stroke="#5d5f5f" stroke-width="0.55" fill="#5d5f5f" text-anchor="middle" textLength="43.8" lengthAdjust="spacingAndGlyphs">IP TV</text>
</svg></body></html>
